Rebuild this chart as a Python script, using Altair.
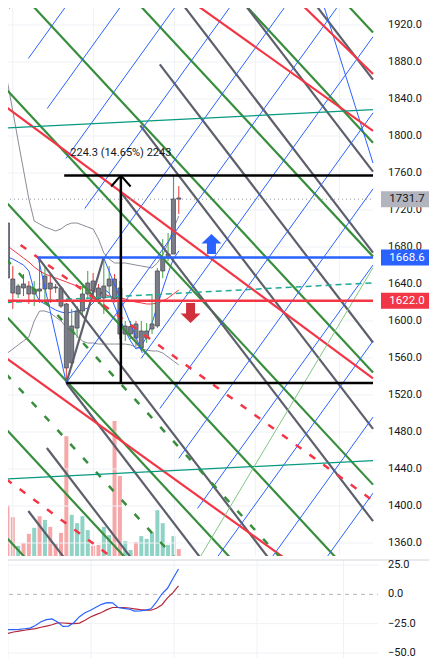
import altair as alt
import pandas as pd

# ---------------- price bars (index 0..32) ----------------
bar_index = list(range(33))
open_px = [1705.9, 1645.4, 1629.2, 1640.0, 1637.8, 1629.2, 1634.6, 1634.6, 1641.1, 1636.8, 1635.7,
           1618.4, 1554.6, 1592.4, 1610.8, 1629.2, 1643.2, 1635.7, 1624.9, 1637.8, 1645.4, 1635.7,
           1585.9, 1586.0, 1596.8, 1570.8, 1581.6, 1591.4, 1594.6, 1654.1, 1668.1, 1672.4, 1733.0]
high_px = [1726.5, 1659.5, 1640.0, 1650.8, 1643.2, 1643.2, 1668.1, 1659.5, 1650.8, 1640.0, 1637.8,
           1619.5, 1613.0, 1616.2, 1637.8, 1654.1, 1651.9, 1640.0, 1668.1, 1659.5, 1650.8, 1643.2,
           1600.0, 1600.0, 1600.0, 1600.0, 1597.8, 1629.2, 1657.3, 1688.6, 1695.1, 1757.3, 1745.9]
low_px = [1632.4, 1613.0, 1624.9, 1627.0, 1618.4, 1616.2, 1619.5, 1618.4, 1619.5, 1630.3, 1614.1,
          1533.0, 1549.2, 1581.6, 1605.4, 1623.8, 1627.0, 1618.4, 1607.6, 1630.3, 1620.0, 1580.5,
          1578.4, 1580.5, 1573.0, 1567.6, 1576.2, 1585.9, 1592.4, 1646.5, 1664.9, 1672.4, 1715.7]
close_px = [1646.5, 1630.3, 1637.8, 1635.7, 1629.2, 1634.6, 1632.4, 1648.6, 1634.6, 1635.7, 1616.2,
            1549.2, 1594.6, 1610.8, 1629.2, 1641.1, 1632.4, 1623.8, 1637.8, 1645.4, 1623.8, 1585.9,
            1594.6, 1594.0, 1581.6, 1589.2, 1589.2, 1596.8, 1654.1, 1668.1, 1672.4, 1731.9, 1731.7]
volume_k = [110, 84, 22, 28, 48, 61, 86, 78, 63, 26, 50, 259, 89, 71, 86, 56, 22, 24, 63, 45, 292,
            173, 32, 13, 30, 43, 37, 52, 99, 71, 24, 43, 15]

# indicator curves on price panel
bb_upper = [1858.4, 1827.0, 1794.6, 1763.2, 1731.9, 1708.1, 1704.9, 1701.6, 1699.5, 1697.3, 1699.5,
            1703.8, 1705.9, 1705.9, 1703.8, 1701.6, 1699.5, 1688.7, 1673.5, 1667.0, 1662.7, 1662.7,
            1662.7, 1661.6, 1660.5, 1659.5, 1658.4, 1657.3, 1662.7, 1671.4, 1684.3, 1699.5, 1713.5]
bb_lower = [1565.4, 1569.7, 1574.1, 1578.4, 1582.7, 1600.0, 1610.8, 1610.8, 1608.7, 1604.3, 1600.0,
            1593.5, 1589.2, 1583.8, 1578.4, 1576.2, 1576.2, 1575.1, 1575.1, 1575.1, 1575.1, 1575.1,
            1575.1, 1574.1, 1571.9, 1569.7, 1568.6, 1567.6, 1567.6, 1565.4, 1561.1, 1556.8, 1552.5]
ma_blue = [1669.2, 1667.0, 1663.8, 1660.5, 1654.0, 1632.4, 1621.6, 1618.4, 1615.1, 1611.9, 1609.7,
           1608.6, 1609.7, 1610.8, 1611.9, 1614.1, 1619.5, 1625.9, 1634.6, 1630.3, 1616.2, 1602.2,
           1589.2, 1578.4, 1569.7, 1573.0, 1582.7, 1597.8, 1616.2, 1634.6, 1651.9, 1667.0, 1675.7]
ma_red = [1681.1, 1676.8, 1672.5, 1668.1, 1663.8, 1658.4, 1654.1, 1650.8, 1648.7, 1646.5, 1644.4,
          1642.2, 1640.0, 1637.8, 1636.8, 1634.6, 1632.4, 1630.3, 1629.2, 1627.0, 1625.9, 1624.9,
          1623.8, 1621.6, 1620.5, 1619.5, 1618.4, 1618.4, 1619.5, 1621.6, 1624.9, 1629.2, 1633.5]

# oscillator panel
osc_fast = [-28.0, -30.0, -30.0, -29.8, -29.3, -28.8, -26.5, -23.4, -21.5, -20.9, -23.5, -27.3,
            -27.0, -24.0, -19.0, -15.6, -13.5, -11.0, -8.5, -7.0, -7.2, -11.2, -12.0, -12.5, -14.2,
            -14.0, -13.5, -12.3, -6.5, 0.5, 5.2, 13.5, 21.6]
osc_slow = [-34.0, -33.2, -32.1, -31.4, -30.6, -29.9, -29.2, -28.0, -27.0, -25.9, -24.3, -24.4,
            -24.7, -25.0, -24.5, -22.0, -19.3, -17.3, -15.4, -13.0, -11.2, -11.2, -11.3, -11.6,
            -12.3, -13.0, -13.4, -13.5, -11.8, -8.8, -3.0, 1.5, 7.3]

price_ticks = [1360, 1400, 1440, 1480, 1520, 1560, 1600, 1640, 1680, 1720, 1760, 1800, 1840, 1880, 1920]
osc_ticks = [25, 0, -25, -50]
time_grid = [1, 16.1, 31.2, 46.3, 62]

X_MIN, X_MAX = -0.27, 68.27
P_MIN, P_MAX = 1345.95, 1945.95
O_MIN, O_MAX = -55.1, 29.3

# ---------------- drawing tools (anchor bar, anchor price, slope per bar) ----------------
grey_bar = [X_MIN, X_MIN, X_MIN, 28.45, 24.8, 21.0, 5.73, 11.0, 7.36, 3.9]
grey_price = [2378.4, 2278.9, 2191.4, 1877.4, 1811.5, 1740.5, 1668.6, 1533.0, 1462.7, 1394.6]
grey_slope = -7.55
green_price = [2339.5, 2220.5, 2097.3, 1971.9, 1850.8, 1728.6, 1605.4, 1483.2, 1366.5]
green_slope = -6.24
blue_bar = [0.4, 3.9, 7.42, 10.93, 14.44, 17.95, 11.0, 24.96, 28.47, 31.98, 35.49, 39.0, 42.5, 46.0, 49.5]
blue_price = [1937.8, 1883.8, 1829.7, 1775.7, 1721.6, 1667.6, 1533.0, 1559.5, 1505.4, 1451.4,
              1397.3, 1343.2, 1289.2, 1235.1, 1181.1]
blue_slope = 8.03
red_bar = [X_MIN, 50.0, X_MIN, X_MIN]
red_price = [2088.6, 1970.2, 1831.4, 1560.0]
red_slope = [-4.13, -5.65, -4.28, -4.16]
red_dash_bar = [2.45, X_MIN]
red_dash_price = [1682.2, 1429.2]
red_dash_slope = [-4.2, -4.28]
green_dash_price = [1667.0, 1542.7]
green_dash_slope = -6.30
teal_price = [1808.6, 1429.2]
teal_slope = 0.29
teal_dash_price = [1620.0]
teal_dash_slope = 0.31

level_blue, level_red, last_price = 1668.6, 1622.0, 1731.7
measure_top, measure_bottom, measure_bar = 1757.3, 1533.0, 21.18
measure_label = "224.3 (14.65%) 2243"

rows = []


def ray(kind, b0, p0, slope):
    rows.append(dict(kind=kind, x=b0, y=p0, x2=X_MAX, y2=p0 + slope * (X_MAX - b0)))


def seg(kind, b0, p0, b1, p1):
    rows.append(dict(kind=kind, x=b0, y=p0, x2=b1, y2=p1))


for t in price_ticks:
    seg("grid", X_MIN, t, X_MAX, t)
for g in time_grid:
    seg("grid", g, P_MIN, g, P_MAX)
for b, p in zip(grey_bar, grey_price):
    ray("grey", b, p, grey_slope)
for p in green_price:
    ray("green", X_MIN, p, green_slope)
for b, p in zip(blue_bar, blue_price):
    ray("blue", b, p, blue_slope)
for b, p, s in zip(red_bar, red_price, red_slope):
    ray("red", b, p, s)
for b, p, s in zip(red_dash_bar, red_dash_price, red_dash_slope):
    ray("red_dash", b, p, s)
for p in green_dash_price:
    ray("green_dash", X_MIN, p, green_dash_slope)
for p in teal_price:
    ray("teal", X_MIN, p, teal_slope)
for p in teal_dash_price:
    ray("teal_dash", X_MIN, p, teal_dash_slope)
seg("grey", 11.0, 1533.0, 17.95, 1668.6)
seg("blue", 5.73, 1668.6, 11.0, 1533.0)
seg("blue", 17.95, 1668.6, 25.2, 1565.4)
seg("blue", 58.8, 1945.9, X_MAX, 1770.8)
seg("lightgreen", 36.1, 1345.95, X_MAX, 1657.6)
seg("level_blue", 5.73, level_blue, X_MAX, level_blue)
seg("level_red", X_MIN, level_red, X_MAX, level_red)
seg("last", X_MIN, last_price, X_MAX, last_price)
seg("black", 10.6, measure_top, X_MAX, measure_top)
seg("black", 11.0, measure_bottom, X_MAX, measure_bottom)
seg("black", measure_bar, measure_bottom, measure_bar, measure_top)
seg("black_thin", 19.36, 1745.4, measure_bar, measure_top)
seg("black_thin", 23.0, 1745.4, measure_bar, measure_top)
segments = pd.DataFrame(rows)

styles = [
    ("green", "#388e3c", 2.2, None),
    ("grey", "#5d606b", 2.2, None),
    ("blue", "#2962ff", 1.0, None),
    ("red", "#f23645", 2.2, None),
    ("red_dash", "#f23645", 2.5, [7, 10]),
    ("green_dash", "#388e3c", 2.5, [7, 12]),
    ("teal", "#089981", 1.2, None),
    ("teal_dash", "#22ab94", 1.5, [6, 4]),
    ("lightgreen", "#81c784", 1.0, None),
    ("level_blue", "#2962ff", 2.5, None),
    ("level_red", "#f23645", 2.5, None),
    ("last", "#9598a1", 1.0, [1, 3]),
    ("black", "#000000", 2.5, None),
    ("black_thin", "#000000", 2.0, None),
]

# ---------------- tables ----------------
candles = pd.DataFrame(dict(x=bar_index, open=open_px, high=high_px, low=low_px,
                            close=close_px, vol=volume_k))
up = [c >= o for o, c in zip(open_px, close_px)]
candles["wick_col"] = ["#43a047" if u else "#e53935" for u in up]
candles["vol_col"] = ["#8fd2c6" if u else "#f6a8a8" for u in up]

curve_rows = []
for name, col, vals in [("upper", "#8a8d96", bb_upper), ("lower", "#8a8d96", bb_lower),
                        ("blue", "#2962ff", ma_blue), ("red", "#f23645", ma_red)]:
    for i, v in zip(bar_index, vals):
        curve_rows.append(dict(series=name, col=col, x=i, y=v))
curves = pd.DataFrame(curve_rows)

osc_rows = []
for name, col, vals in [("slow", "#b2283a", osc_slow), ("fast", "#2962ff", osc_fast)]:
    for i, v in zip(bar_index, vals):
        osc_rows.append(dict(series=name, col=col, x=i, y=v))
osc = pd.DataFrame(osc_rows)

price_labels = pd.DataFrame(dict(y=price_ticks, t=[f"{v:.1f}" for v in price_ticks]))
osc_labels = pd.DataFrame(dict(y=osc_ticks, t=[f"{v:.1f}".replace("-", "\u2212") for v in osc_ticks]))
osc_grid = pd.DataFrame(dict(y=[v for v in osc_ticks if v != 0]))
osc_vgrid = pd.DataFrame(dict(x=time_grid))

tags = pd.DataFrame(dict(y=[last_price, level_blue, level_red],
                         label=[f"{last_price:.1f}", f"{level_blue:.1f}", f"{level_red:.1f}"],
                         fill=["#b2b5be", "#2962ff", "#f23645"],
                         txt=["#131722", "#ffffff", "#ffffff"]))

# ---------------- scales ----------------
xs = alt.Scale(domain=[X_MIN, X_MAX], nice=False, zero=False)
ys = alt.Scale(domain=[P_MIN, P_MAX], nice=False, zero=False)
os_ = alt.Scale(domain=[O_MIN, O_MAX], nice=False, zero=False)
X = alt.X("x:Q", scale=xs, axis=None)
YP = alt.Y("y:Q", scale=ys, axis=None)
YO = alt.Y("y:Q", scale=os_, axis=None)
LABEL_FONT = "Roboto"

# ---------------- price panel ----------------
volume = alt.Chart(candles).mark_bar(size=4, clip=True).encode(
    x=X, y=alt.Y("vol:Q", scale=alt.Scale(domain=[0, 1200], nice=False), axis=None),
    color=alt.Color("vol_col:N", scale=None))

grid_layer = alt.Chart(segments).transform_filter(alt.datum.kind == "grid").mark_rule(
    color="#eef1f6", strokeWidth=1).encode(x=X, x2="x2:Q", y=YP, y2="y2:Q")

curve_layer = alt.Chart(curves).mark_line(strokeWidth=1, clip=True).encode(
    x=X, y=YP, color=alt.Color("col:N", scale=None), detail="series:N")

wicks = alt.Chart(candles).mark_rule(strokeWidth=1, clip=True).encode(
    x=X, y=alt.Y("low:Q", scale=ys, axis=None), y2="high:Q",
    color=alt.Color("wick_col:N", scale=None))

bodies = alt.Chart(candles).mark_bar(size=4, fill="#7b7e88", stroke="#4a4d57",
                                     strokeWidth=0.8, clip=True).encode(
    x=X, y=alt.Y("open:Q", scale=ys, axis=None), y2="close:Q")

seg_layers = []
for kind, col, w, dash in styles:
    kw = dict(color=col, strokeWidth=w, clip=True)
    if dash:
        kw["strokeDash"] = dash
    seg_layers.append(
        alt.Chart(segments).transform_filter(alt.datum.kind == kind).mark_rule(**kw).encode(
            x=X, x2="x2:Q", y=YP, y2="y2:Q"))

label_layer = alt.Chart(pd.DataFrame(dict(x=[measure_bar], y=[1781.6], t=[measure_label]))).mark_text(
    fontSize=11, font=LABEL_FONT, color="#131722", align="center", baseline="middle").encode(
    x=X, y=YP, text="t:N")

up_path = "M0,-1 L1,-0.05 L0.45,-0.05 L0.45,1 L-0.45,1 L-0.45,-0.05 L-1,-0.05 Z"
down_path = "M0,1 L1,0.05 L0.45,0.05 L0.45,-1 L-0.45,-1 L-0.45,0.05 L-1,0.05 Z"
arrow_up = alt.Chart(pd.DataFrame(dict(x=[38.1], y=[1683.2]))).mark_point(
    shape=up_path, size=400, filled=True, color="#2962ff", opacity=1).encode(x=X, y=YP)
arrow_down = alt.Chart(pd.DataFrame(dict(x=[34.2], y=[1608.6]))).mark_point(
    shape=down_path, size=400, filled=True, color="#d0313c", opacity=1).encode(x=X, y=YP)

axis_text = alt.Chart(price_labels).mark_text(
    fontSize=11, font=LABEL_FONT, color="#131722", align="left", baseline="middle").encode(
    x=alt.value(387), y=YP, text="t:N")

box_path = "M-1.625,-0.5 L1.625,-0.5 L1.625,0.5 L-1.625,0.5 Z"
tag_boxes = alt.Chart(tags).mark_point(shape=box_path, size=1024, filled=True, opacity=1,
                                       strokeWidth=0).encode(
    x=alt.value(406), y=YP, color=alt.Color("fill:N", scale=None))
tag_text = alt.Chart(tags).mark_text(fontSize=11.5, font=LABEL_FONT, align="center",
                                     baseline="middle").encode(
    x=alt.value(406), y=YP, text="label:N", color=alt.Color("txt:N", scale=None))

price_group = alt.layer(grid_layer, curve_layer, wicks, bodies, *seg_layers, label_layer,
                        arrow_up, arrow_down, axis_text, tag_boxes, tag_text)
top = alt.layer(volume, price_group).resolve_scale(y="independent").properties(width=377, height=555)

# ---------------- oscillator panel ----------------
o_hgrid = alt.Chart(osc_grid).mark_rule(color="#eef1f6", strokeWidth=1).encode(
    y=YO, x=alt.value(0), x2=alt.value(377))
o_vgrid = alt.Chart(osc_vgrid).mark_rule(color="#eef1f6", strokeWidth=1).encode(
    x=X, y=alt.value(0), y2=alt.value(99))
separator = alt.Chart(pd.DataFrame(dict(y=[O_MAX]))).mark_rule(color="#d1d4dc", strokeWidth=1).encode(
    y=YO, x=alt.value(0), x2=alt.value(429))
zero_line = alt.Chart(pd.DataFrame(dict(y=[0.0]))).mark_rule(
    color="#b2b5be", strokeWidth=1, strokeDash=[4, 4]).encode(
    y=YO, x=alt.value(0), x2=alt.value(377))
osc_lines = alt.Chart(osc).mark_line(strokeWidth=1.2, clip=True).encode(
    x=X, y=YO, color=alt.Color("col:N", scale=None), detail="series:N")
osc_text = alt.Chart(osc_labels).mark_text(
    fontSize=11, font=LABEL_FONT, color="#131722", align="left", baseline="middle").encode(
    x=alt.value(387), y=YO, text="t:N")
bottom = alt.layer(o_hgrid, o_vgrid, separator, zero_line, osc_lines,
                   osc_text).properties(width=377, height=99)

chart = alt.vconcat(top, bottom, spacing=2).properties(
    padding={"left": -8, "top": -8, "right": -4, "bottom": -2}
).configure(font=LABEL_FONT).configure_view(strokeWidth=0, stroke="transparent")

chart.save("out.html", embed_options={"renderer": "svg", "actions": False})
